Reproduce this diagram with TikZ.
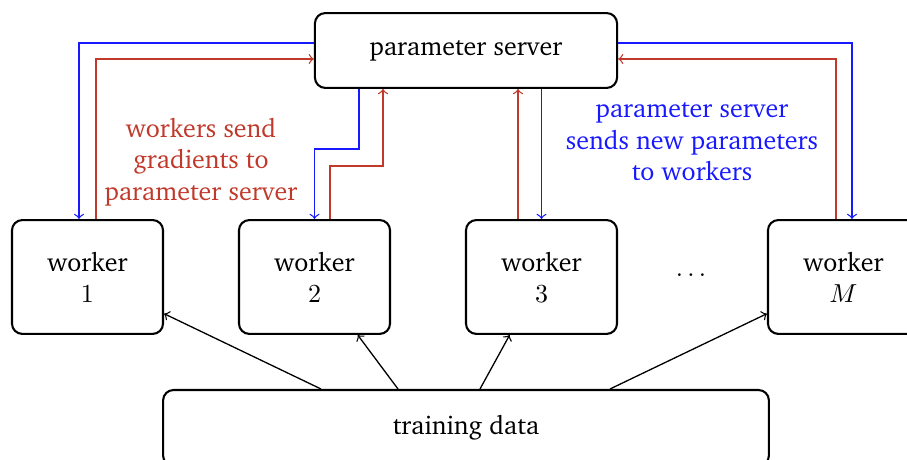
\documentclass[tikz,border=0pt]{standalone}
\usepackage[T1]{fontenc}
\usepackage{charter}
\usetikzlibrary{calc}
\definecolor{gred}{RGB}{192,57,43}
\definecolor{gblue}{RGB}{25,25,255}
\begin{document}
\begin{tikzpicture}[x=0.3846pt,y=-0.3846pt,
  box/.style={draw,thick,rounded corners=4pt,align=center,inner sep=0pt},
  wbox/.style={box,minimum width=58.1pt,minimum height=43.8pt},
  rarr/.style={->,gred,line width=0.5pt},
  barr/.style={->,gblue,line width=0.5pt},
  karr/.style={->,black,line width=0.5pt}]
\useasboundingbox (0,0) rectangle (907,460);
\node[box,minimum width=116.2pt,minimum height=28.8pt] (ps) at (466,50.5) {parameter server};
\node[wbox] (w1) at (87.5,277) {worker\\$1$};
\node[wbox] (w2) at (314.5,277) {worker\\$2$};
\node[wbox] (w3) at (541.5,277) {worker\\$3$};
\node[wbox] (wM) at (843.5,277) {worker\\$M$};
\node (dots) at (691,275) {$\dots$};
\node[box,minimum width=233pt,minimum height=29.2pt] (td) at (466,428) {training data};
% worker 1
\draw[barr] ($(ps.west)+(0,-7.5)$) -| ($(w1.north)+(-8.5,0)$);
\draw[rarr] ($(w1.north)+(8.5,0)$) |- ($(ps.west)+(0,8.5)$);
% worker 2
\draw[barr] ($(ps.south)+(-107,0)$) |- ($(w2.north)+(0,-70)$) -- (w2.north);
\draw[rarr] ($(w2.north)+(15.5,0)$) |- ($(ps.south)+(-83,77)$) -- ($(ps.south)+(-83,0)$);
% worker 3
\coordinate (r3) at ($(w3.north)+(-23.5,0)$);
\draw[rarr] (r3) -- (r3 |- ps.south);
\draw[barr] (w3.north |- ps.south) -- (w3.north);
% worker M
\draw[barr] ($(ps.east)+(0,-7.5)$) -| ($(wM.north)+(8.5,0)$);
\draw[rarr] ($(wM.north)+(-7.5,0)$) |- ($(ps.east)+(0,8.5)$);
% training data
\draw[karr] ($(td.north)+(-145,0)$) -- (w1);
\draw[karr] ($(td.north)+(-68,0)$) -- (w2);
\draw[karr] ($(td.north)+(14,0)$) -- (w3);
\draw[karr] ($(td.north)+(144,0)$) -- (wM);
% labels
\node[text=gred,align=center] (lr) at (201,162) {workers send\\gradients to\\parameter server};
\node[text=gblue,align=center] (lb) at (692,142) {parameter server\\sends new parameters\\to workers};
\end{tikzpicture}
\end{document}
